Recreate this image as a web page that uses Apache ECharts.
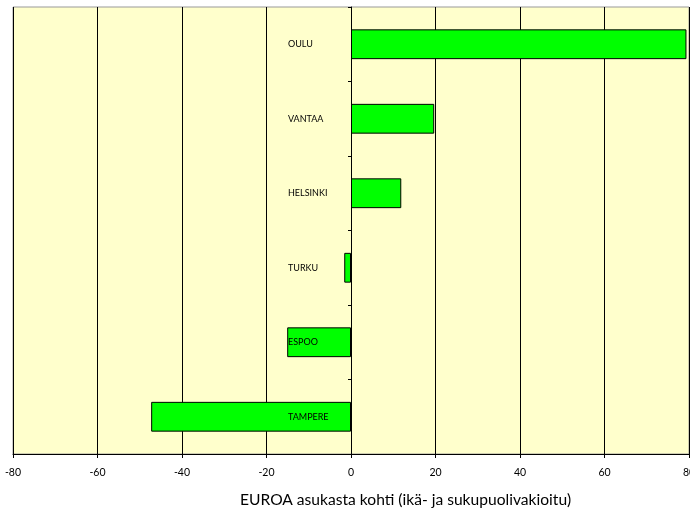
<!DOCTYPE html>
<html><head><meta charset="utf-8">
<script src="https://cdn.jsdelivr.net/npm/echarts@6/dist/echarts.min.js"></script>
<style>html,body{margin:0;padding:0;background:#fff}#c{width:690px;height:511px}</style>
</head><body><div id="c"></div>
<script>
const cities = ["OULU", "VANTAA", "HELSINKI", "TURKU", "ESPOO", "TAMPERE"];
const values = [79.4, 19.7, 11.9, -1.6, -15.1, -47.3];
const axisTitle = "EUROA asukasta kohti (ikä- ja sukupuolivakioitu)";

const chart = echarts.init(document.getElementById('c'));
chart.setOption({
  animation: false,
  backgroundColor: '#ffffff',
  textStyle: { fontFamily: 'Lato' },
  title: {
    text: axisTitle, left: 235, top: 487,
    textStyle: { fontFamily: 'Lato', fontSize: 15.6, fontWeight: 'normal', color: '#000' }
  },
  grid: { left: 13, right: 1, top: 7, bottom: 57, containLabel: false, outerBoundsMode: 'none',
          show: true, backgroundColor: '#FFFFCC', borderColor: '#999', borderWidth: 1 },
  xAxis: {
    type: 'value', min: -80, max: 80, interval: 20,
    axisLine: { show: true, lineStyle: { color: '#000' } },
    axisTick: { show: true, length: 4, lineStyle: { color: '#000' } },
    axisLabel: { fontSize: 10.5, color: '#000', margin: 13, fontFamily: 'Lato' },
    splitLine: { show: true, lineStyle: { color: '#000', width: 1 } }
  },
  yAxis: {
    type: 'category', data: cities, inverse: true, z: 10,
    axisLine: { show: true, onZero: true, lineStyle: { color: '#000' } },
    axisTick: { show: true, length: 3, lineStyle: { color: '#000' } },
    axisLabel: { align: 'left', margin: -275, fontSize: 9, color: '#000', fontFamily: 'Lato' },
    splitLine: { show: false }
  },
  series: [{
    type: 'bar', data: values, barWidth: '40%',
    itemStyle: { color: '#00FF00', borderColor: '#000', borderWidth: 1 }
  }]
});
</script></body></html>
